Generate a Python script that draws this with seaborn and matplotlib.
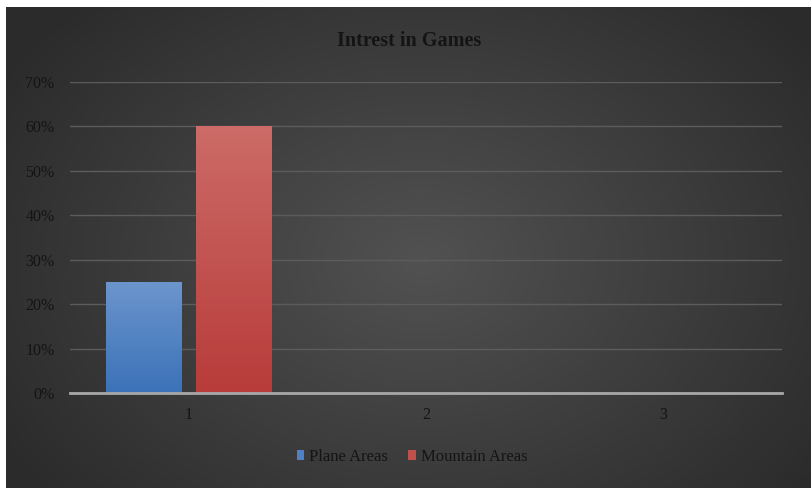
import numpy as np
import pandas as pd
import matplotlib
matplotlib.use("Agg")
import matplotlib.pyplot as plt
import seaborn as sns
from matplotlib.ticker import PercentFormatter, MultipleLocator
from matplotlib.colors import LinearSegmentedColormap

categories = ["1", "2", "3"]
plane_areas = [0.25, 0.0, 0.0]
mountain_areas = [0.60, 0.0, 0.0]
series_names = ["Plane Areas", "Mountain Areas"]
title = "Intrest in Games"

df = pd.DataFrame({
    "cat": categories * 2,
    "val": plane_areas + mountain_areas,
    "series": [series_names[0]] * 3 + [series_names[1]] * 3,
})

sns.set_theme(style="white")
plt.rcParams["font.family"] = ["Liberation Serif", "DejaVu Serif"]
TXT = "#141414"

W, H = 812, 488
fig = plt.figure(figsize=(W / 100, H / 100), dpi=100)
fig.patch.set_facecolor("white")

# background radial gradient (chart area)
bg = fig.add_axes([6 / W, 0, (811 - 6) / W, (H - 7) / H])
bg.set_axis_off()
yy, xx = np.mgrid[0:200, 0:330]
cx, cy = 170, 105
r = np.sqrt(((xx - cx) / 200) ** 2 + ((yy - cy) / 150) ** 2)
r = np.clip(r, 0, 1)
v = 0.32 - 0.15 * r
bg.imshow(np.dstack([v, v, v]), aspect="auto", extent=[0, 1, 0, 1],
          interpolation="bilinear")
bg.set_xlim(0, 1); bg.set_ylim(0, 1)

ax = fig.add_axes([70 / W, 95 / H, 712 / W, 311 / H])
ax.patch.set_alpha(0)

palette = {series_names[0]: "#4f81c4", series_names[1]: "#c0504d"}
sns.barplot(data=df, x="cat", y="val", hue="series", palette=palette,
            width=0.764, gap=0.17, linewidth=0, saturation=1, ax=ax,
            legend=True, zorder=3)

# gradient fill on bars
grads = {series_names[0]: ("#6c95cd", "#3b72b8"),
         series_names[1]: ("#cc6b67", "#b83c3a")}
for container, name in zip(ax.containers, series_names):
    top, bot = grads[name]
    cmap = LinearSegmentedColormap.from_list(name, [bot, top])
    for p in container.patches:
        x0, y0 = p.get_x(), p.get_y()
        w, h = p.get_width(), p.get_height()
        if h <= 0:
            continue
        g = np.linspace(1, 0, 100).reshape(-1, 1)
        im = ax.imshow(g, cmap=cmap, aspect="auto",
                       extent=[x0, x0 + w, y0, y0 + h], zorder=4)
        im.set_clip_path(p)

ax.set_xlim(-0.5, 2.5)
ax.set_ylim(0, 0.7)
ax.yaxis.set_major_locator(MultipleLocator(0.1))
ax.yaxis.set_major_formatter(PercentFormatter(1.0, decimals=0))
ax.grid(axis="y", color="#5c5c5c", linewidth=1, zorder=0)
ax.set_axisbelow(True)
for s in ["top", "right", "left"]:
    ax.spines[s].set_visible(False)
ax.spines["bottom"].set_color("#a8a8a8")
ax.spines["bottom"].set_linewidth(2)
ax.spines["bottom"].set_zorder(5)
ax.tick_params(axis="both", length=0, labelsize=11.5, labelcolor=TXT)
ax.tick_params(axis="y", pad=11)
ax.tick_params(axis="x", pad=10)
ax.set_xlabel("")
ax.set_ylabel("")

fig.text(409 / W, 1 - 41 / H, title, ha="center", va="center",
         fontsize=14.5, fontweight="bold", color=TXT)

handles, labels = ax.get_legend_handles_labels()
ax.get_legend().remove()
fig.legend(handles, labels, loc="center", bbox_to_anchor=(412 / W, 1 - 457 / H),
           ncol=2, frameon=False, handlelength=0.45, handleheight=0.55,
           handletextpad=0.3, columnspacing=1.2, labelcolor=TXT,
           prop={"size": 12})

fig.savefig("out.png", dpi=100)
